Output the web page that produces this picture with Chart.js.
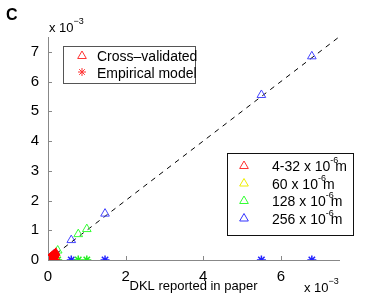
<!DOCTYPE html>
<html>
<head>
<meta charset="utf-8">
<script src="https://cdn.jsdelivr.net/npm/chart.js@4/dist/chart.umd.min.js"></script>
<style>
  body { margin: 0; background: #fff; }
  #wrap { width: 374px; height: 296px; position: relative; }
</style>
</head>
<body>
<div id="wrap"><canvas id="chart" width="374" height="296"></canvas></div>
<script>
// values in units of 1e-3 (x: reported in paper, y: cross-validated)
const redX = [0.01, 0.02, 0.04, 0.05, 0.07, 0.09, 0.11, 0.14, 0.17, 0.2];
const redY = [0.01, 0.03, 0.05, 0.07, 0.09, 0.11, 0.14, 0.17, 0.2, 0.24];
const yellowX = [0.05, 0.08, 0.12, 0.16];
const yellowY = [0.04, 0.07, 0.1, 0.13];
const greenX = [0.25, 0.78, 1.0];
const greenY = [0.32, 0.87, 1.04];
const blueX = [0.15, 0.6, 1.47, 5.5, 6.8];
const blueY = [0.18, 0.67, 1.56, 5.55, 6.85];
const identity = [0, 7.5];
const xTicks = [0, 2, 4, 6];
const yTicks = [0, 1, 2, 3, 4, 5, 6, 7];
const sizeLabels = ["4-32", "60", "128", "256"];
const sizeColors = ["#ff3333", "#eeee00", "#33ff33", "#3333ff"];

function pts(xs, ys) { return xs.map((x, i) => ({ x: x, y: ys[i] })); }
function zeros(xs) { return xs.map(x => ({ x: x, y: 0 })); }

const FONT = "'Liberation Sans', Arial, sans-serif";

function openTriangle(ctx, color, x, y) {
  ctx.strokeStyle = color;
  ctx.fillStyle = 'rgba(0,0,0,0)';
  Chart.helpers.drawPoint(ctx, { pointStyle: 'triangle', radius: 5, borderWidth: 1 }, x, y);
}

// ticks, exponents and the two legend boxes
const decor = {
  id: 'decor',
  afterDraw(chart) {
    const ctx = chart.ctx;
    const xs = chart.scales.x, ys = chart.scales.y;
    ctx.save();
    ctx.strokeStyle = '#888';
    ctx.lineWidth = 1;
    ctx.beginPath();
    xs.ticks.forEach(t => {
      const px = Math.round(xs.getPixelForValue(t.value)) + 0.5;
      ctx.moveTo(px, ys.bottom); ctx.lineTo(px, ys.bottom - 4);
    });
    ys.ticks.forEach(t => {
      const py = Math.round(ys.getPixelForValue(t.value)) + 0.5;
      ctx.moveTo(xs.left, py); ctx.lineTo(xs.left + 4, py);
    });
    ctx.stroke();

    ctx.fillStyle = '#000';
    ctx.textBaseline = 'alphabetic';
    // panel letter
    ctx.font = "bold 16px " + FONT;
    ctx.fillText('C', 6, 20);
    // exponents
    const expo = (x, y) => {
      ctx.fillStyle = '#000';
      ctx.font = "13px " + FONT;
      ctx.fillText('x 10', x, y);
      const w = ctx.measureText('x 10').width;
      ctx.font = "9px " + FONT;
      ctx.fillText('\u22123', w + x, y - 8);
    };
    expo(49, 32);
    expo(304, 292);

    // legend 1
    ctx.fillStyle = '#fff';
    ctx.fillRect(63, 46, 132, 37);
    ctx.strokeStyle = '#555';
    ctx.strokeRect(63.5, 46.5, 132, 37);
    openTriangle(ctx, '#ff3333', 82, 56);
    ctx.strokeStyle = '#ff3333';
    ctx.fillStyle = '#ff3333';
    Chart.helpers.drawPoint(ctx, { pointStyle: 'star', radius: 4, borderWidth: 1 }, 82, 72);
    ctx.fillStyle = '#000';
    ctx.font = "14px " + FONT;
    ctx.fillText('Cross\u2013validated', 97, 61);
    ctx.fillText('Empirical model', 97, 78);

    // legend 2
    ctx.fillStyle = '#fff';
    ctx.fillRect(227, 153, 126, 82);
    ctx.strokeStyle = '#111';
    ctx.strokeRect(227.5, 153.5, 126, 82);
    sizeLabels.forEach((lab, i) => {
      const y = 166 + i * 17.5;
      openTriangle(ctx, sizeColors[i], 244, y);
      ctx.fillStyle = '#000';
      ctx.font = "14px " + FONT;
      const s = lab + ' x 10';
      ctx.fillText(s, 272, y + 5);
      const w = ctx.measureText(s).width;
      ctx.font = "9px " + FONT;
      ctx.fillText('-6', 272 + w, y - 3);
      const w2 = ctx.measureText('-6').width;
      ctx.font = "14px " + FONT;
      ctx.fillText('m', 272 + w + w2 - 3, y + 5);
    });
    ctx.restore();
  }
};

const tri = (data, color, fill) => ({
  type: 'scatter', data: data, pointStyle: 'triangle', pointRadius: 5,
  borderColor: color, backgroundColor: fill || 'rgba(0,0,0,0)', borderWidth: 1
});
const star = (data, color) => ({
  type: 'scatter', data: data, pointStyle: 'star', pointRadius: 4.5,
  borderColor: color, backgroundColor: color, borderWidth: 1.5
});

new Chart(document.getElementById('chart'), {
  type: 'scatter',
  data: {
    datasets: [
      tri(pts(redX, redY), '#ff0000', '#ff0000'),
      star(zeros(redX), '#ff0000'),
      star(zeros(yellowX), '#dddd00'),
      tri(pts(yellowX, yellowY), '#eeee00'),
      star(zeros(greenX), '#22ee22'),
      tri(pts(greenX, greenY), '#33ff33'),
      star(zeros(blueX), '#2222ff'),
      tri(pts(blueX, blueY), '#4444ff'),
      {
        type: 'line', data: pts(identity, identity), borderColor: '#000',
        borderWidth: 1, borderDash: [5, 5], pointRadius: 0, fill: false
      }
    ]
  },
  options: {
    responsive: false,
    animation: false,
    events: [],
    layout: { padding: { top: 37, right: 35, left: 0, bottom: 0 } },
    plugins: { legend: { display: false }, tooltip: { enabled: false } },
    scales: {
      x: {
        type: 'linear', min: 0, max: 7.5,
        afterBuildTicks: s => { s.ticks = xTicks.map(v => ({ value: v })); },
        afterFit: s => { s.height = 36; },
        border: { color: '#888' },
        grid: { display: false },
        ticks: { autoSkip: false, color: '#000', font: { family: FONT, size: 15 }, padding: 0, maxRotation: 0 },
        title: { display: true, text: 'DKL reported in paper', color: '#000', font: { family: FONT, size: 13 }, padding: { top: 0, bottom: 2 } }
      },
      y: {
        type: 'linear', min: 0, max: 7.5,
        afterBuildTicks: s => { s.ticks = yTicks.map(v => ({ value: v })); },
        afterFit: s => { s.width = 48; },
        border: { color: '#888' },
        grid: { display: false },
        ticks: { autoSkip: false, color: '#000', font: { family: FONT, size: 15 }, padding: 1 }
      }
    }
  },
  plugins: [decor]
});
</script>
</body>
</html>
